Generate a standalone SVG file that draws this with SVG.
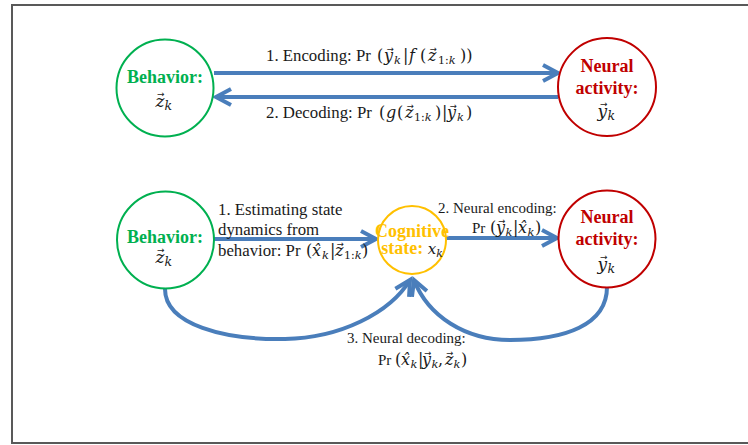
<svg xmlns="http://www.w3.org/2000/svg" width="748" height="445" viewBox="0 0 748 445" font-family="'Liberation Serif','Times New Roman',serif">
<style>
.t{font-family:'Liberation Serif','Times New Roman',serif;font-size:16.8px;fill:#1a1a1a}
.s{font-size:15px}
.m{font-family:'DejaVu Serif',serif;font-style:italic;font-size:16px}
.p{font-family:'DejaVu Serif',serif;font-size:16px}
.sub{font-family:'DejaVu Serif',serif;font-size:11px}
.si{font-family:'DejaVu Serif',serif;font-size:11.5px;font-style:italic}
.va{font-family:'DejaVu Sans',sans-serif;font-style:normal;font-weight:normal;font-size:8.5px}
.vn{font-family:'DejaVu Sans',sans-serif;font-style:normal;font-weight:normal;font-size:9px}
.nb{font-family:'Liberation Serif','Times New Roman',serif;font-weight:bold;font-size:18px}
.g{fill:#00b050}
.r{fill:#c00000}
.y{fill:#ffc000}
.var{font-family:'DejaVu Serif',serif;font-style:italic;font-size:17px;fill:#1a1a1a}
.conn{fill:none;stroke:#4a7ebb;stroke-width:4}
</style>
<defs>
<marker id="ah" markerUnits="userSpaceOnUse" viewBox="-20 -12 24 24" markerWidth="24" markerHeight="24" refX="0" refY="0" orient="auto" overflow="visible">
<path d="M-15,-8 L0,0 L-15,8" fill="none" stroke="#4a7ebb" stroke-width="4"/>
</marker>
</defs>
<rect x="12" y="5" width="760" height="438" fill="#fff" stroke="#595959" stroke-width="2"/>

<g id="connectors">
<line class="conn" x1="214" y1="73" x2="558" y2="73" marker-end="url(#ah)"/>
<line class="conn" x1="558" y1="97" x2="216" y2="97" marker-end="url(#ah)"/>
<line class="conn" x1="214" y1="239" x2="376" y2="239" marker-end="url(#ah)"/>
<line class="conn" x1="446" y1="238" x2="557" y2="238" marker-end="url(#ah)"/>
<path class="conn" d="M165,289 C165,325 225,340 285,339 C340,338 390,313 410,280" marker-end="url(#ah)"/>
<path class="conn" d="M607,287 C607,325 565,340 510,340 C465,340 428,316 414,280" marker-end="url(#ah)"/>

<text class="t" x="266" y="61">1. Encoding: Pr <tspan class="p" x="377">(</tspan><tspan class="m" x="384">y</tspan><tspan class="si" x="394" y="64">k</tspan><tspan class="p" x="403" y="61">|</tspan><tspan class="m" x="409">f</tspan><tspan class="p" x="420">(</tspan><tspan class="m" x="428">z</tspan><tspan class="sub" x="438" y="64">1:<tspan class="si">k</tspan></tspan><tspan class="p" x="460" y="61">))</tspan><tspan class="va" x="386.5" y="51.5">→</tspan><tspan class="va" x="429.5" y="51.5">→</tspan></text>

<text class="t" x="266" y="118">2. Decoding: Pr <tspan class="p" x="379">(</tspan><tspan class="m" x="386">g</tspan><tspan class="p" x="397">(</tspan><tspan class="m" x="405">z</tspan><tspan class="sub" x="414" y="121">1:<tspan class="si">k</tspan></tspan><tspan class="p" x="435" y="118">)</tspan><tspan class="p" x="442">|</tspan><tspan class="m" x="447">y</tspan><tspan class="si" x="457" y="121">k</tspan><tspan class="p" x="466" y="118">)</tspan><tspan class="va" x="406.5" y="108.5">→</tspan><tspan class="va" x="449.5" y="108.5">→</tspan></text>

<text class="t" x="218" y="215">1. Estimating state</text>
<text class="t" x="218" y="235">dynamics from</text>
<text class="t" x="218" y="256">behavior: Pr <tspan class="p" x="306">(</tspan><tspan class="m" x="312">x̂</tspan><tspan class="si" x="322" y="259">k</tspan><tspan class="p" x="330" y="256">|</tspan><tspan class="m" x="335">z</tspan><tspan class="sub" x="344" y="259">1:<tspan class="si">k</tspan></tspan><tspan class="p" x="362" y="256">)</tspan><tspan class="va" x="336.5" y="246.5">→</tspan></text>

<text class="t s" x="438" y="213">2. Neural encoding:</text>
<text class="t s" x="472" y="233">Pr <tspan class="p" x="490">(</tspan><tspan class="m" x="496">y</tspan><tspan class="si" x="505.5" y="236">k</tspan><tspan class="p" x="513" y="233">|</tspan><tspan class="m" x="518">x̂</tspan><tspan class="si" x="527.5" y="236">k</tspan><tspan class="p" x="535" y="233">)</tspan><tspan class="va" x="498" y="223.5">→</tspan></text>

<text class="t s" x="347" y="343">3. Neural decoding:</text>
<text class="t s" x="378" y="365">Pr <tspan class="p" x="395">(</tspan><tspan class="m" x="401">x̂</tspan><tspan class="si" x="410.5" y="368">k</tspan><tspan class="p" x="418" y="365">|</tspan><tspan class="m" x="422">y</tspan><tspan class="si" x="431.5" y="368">k</tspan><tspan class="p" x="438" y="365">,</tspan><tspan class="m" x="445">z</tspan><tspan class="si" x="453.5" y="368">k</tspan><tspan class="p" x="461" y="365">)</tspan><tspan class="va" x="424" y="355.5">→</tspan><tspan class="va" x="446" y="355.5">→</tspan></text>
</g>

<g id="behavior-top">
<circle cx="165" cy="88" r="48.5" fill="#fff" stroke="#00b050" stroke-width="2"/>
<text class="nb g" x="165" y="83" text-anchor="middle">Behavior:</text>
<text class="var" x="155.5" y="107">z<tspan font-size="12.5" x="164.5" y="110">k</tspan><tspan class="vn" x="157" y="96.5">→</tspan></text>
</g>
<g id="neural-top">
<circle cx="607" cy="87" r="49" fill="#fff" stroke="#c00000" stroke-width="2"/>
<text class="nb r" x="607" y="72" text-anchor="middle">Neural</text>
<text class="nb r" x="607" y="94" text-anchor="middle">activity:</text>
<text class="var" x="597.5" y="117">y<tspan font-size="12.5" x="607.5" y="120">k</tspan><tspan class="vn" x="600" y="106.5">→</tspan></text>
</g>
<g id="behavior-bottom">
<circle cx="165.5" cy="240" r="48.5" fill="#fff" stroke="#00b050" stroke-width="2"/>
<text class="nb g" x="165" y="243" text-anchor="middle">Behavior:</text>
<text class="var" x="155.5" y="263">z<tspan font-size="12.5" x="164.5" y="266">k</tspan><tspan class="vn" x="157" y="252.5">→</tspan></text>
</g>
<g id="cognitive">
<circle cx="412" cy="240" r="34" fill="#fff" stroke="#ffc000" stroke-width="2"/>
<text class="nb y" x="412" y="237" text-anchor="middle" font-size="15.5">Cognitive</text>
<text class="nb" x="412" y="254" text-anchor="middle" font-size="15.5"><tspan class="y">state: </tspan><tspan font-family="'DejaVu Serif',serif" font-weight="normal" font-style="italic" fill="#1a1a1a" font-size="15">x</tspan><tspan font-family="'DejaVu Serif',serif" font-weight="normal" font-style="italic" fill="#1a1a1a" font-size="11" dy="3">k</tspan></text>
</g>
<g id="neural-bottom">
<circle cx="607" cy="239" r="48.5" fill="#fff" stroke="#c00000" stroke-width="2"/>
<text class="nb r" x="607" y="223" text-anchor="middle">Neural</text>
<text class="nb r" x="607" y="245" text-anchor="middle">activity:</text>
<text class="var" x="597.5" y="270">y<tspan font-size="12.5" x="607.5" y="273">k</tspan><tspan class="vn" x="600" y="259.5">→</tspan></text>
</g>
</svg>
